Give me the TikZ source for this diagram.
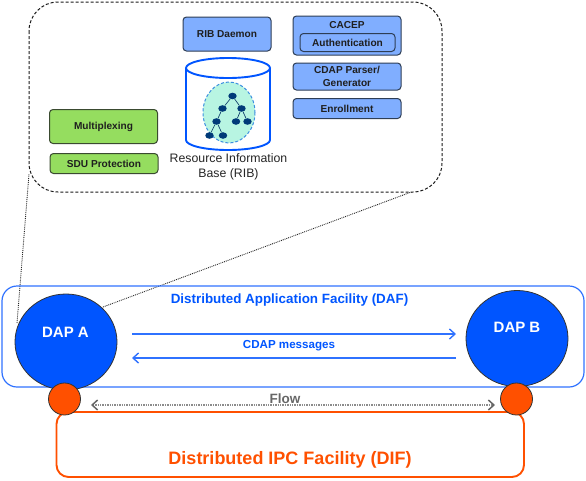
\documentclass[tikz,border=0pt]{standalone}
\usepackage{fontspec}
\setmainfont{Liberation Sans}
\usetikzlibrary{arrows.meta,shapes.geometric}
\definecolor{dapblue}{HTML}{0055FF}
\definecolor{lineblue}{HTML}{2F72FF}
\definecolor{boxblue}{HTML}{80AEFF}
\definecolor{boxedge}{HTML}{2E3E55}
\definecolor{boxgreen}{HTML}{95DD5F}
\definecolor{greenedge}{HTML}{3A4A30}
\definecolor{dif}{HTML}{FF5000}
\definecolor{navy}{HTML}{003A78}
\definecolor{teal}{HTML}{B8F5E2}
\definecolor{tealedge}{HTML}{3C8FE0}
\definecolor{flowgrey}{HTML}{666666}
\tikzset{
  x=1pt,y=-1pt,
  boxfont/.style={font=\fontsize{10.1}{12.4}\selectfont\bfseries,text=black!88},
  rbox/.style={draw=boxedge,line width=1pt,fill=boxblue,rounded corners=3.5pt,inner sep=0pt,align=center,boxfont},
  gbox/.style={rbox,draw=greenedge,fill=boxgreen},
  treenode/.style={ellipse,fill=navy,minimum width=8.4pt,minimum height=6.6pt,inner sep=0pt},
  treeedge/.style={draw=navy!80!black,line width=0.6pt},
  dapnode/.style={ellipse,draw=black!80,line width=0.8pt,fill=dapblue,minimum width=102pt,inner sep=0pt},
  portnode/.style={circle,draw=black!80,line width=0.8pt,fill=dif,minimum size=32pt,inner sep=0pt},
  daflabel/.style={text=dapblue,font=\fontsize{13.4}{16}\selectfont\bfseries,inner sep=0pt},
  daplabel/.style={text=white,font=\fontsize{15}{18}\selectfont\bfseries,inner sep=0pt},
  msg/.style={draw=lineblue,line width=1.2pt,-{Straight Barb[length=5.5pt,width=10pt,line width=1.4pt]}},
  zoomline/.style={draw=black!85,densely dotted,line width=0.9pt},
  flowline/.style={draw=flowgrey!75,densely dotted,line width=1.4pt,{Straight Barb[length=5.5pt,width=10pt,line width=1.5pt,color=flowgrey]}-{Straight Barb[length=5.5pt,width=10pt,line width=1.5pt,color=flowgrey]}}
}
\begin{document}
\begin{tikzpicture}
\useasboundingbox (0,0) rectangle (586,480);
% zoom lines
\coordinate (zaA) at (17,323);
\coordinate (zaB) at (29,174);
\coordinate (zbA) at (103,307);
\coordinate (zbB) at (414,191);
\draw[zoomline] (zaA) -- (zaB);
\draw[zoomline] (zbA) -- (zbB);
% dashed detail box
\draw[black!90,densely dashed,line width=1pt,fill=white,rounded corners=29pt] (29,2) rectangle (442,192);
% DAF frame
\draw[lineblue,line width=1.2pt,rounded corners=15pt] (2,286) rectangle (584,387);
% DIF frame
\draw[dif,line width=1.9pt,rounded corners=12pt] (56.5,412) rectangle (524,477);
% detail boxes
\node[rbox,minimum width=88pt,minimum height=34pt] (ribd) at (227,34) {\raisebox{-1pt}{RIB Daemon}};
\node[rbox,minimum width=108pt,minimum height=39pt] (cacep) at (347,35.5) {};
\node[inner sep=0pt,boxfont] (cacept) at (347,25) {CACEP};
\node[rbox,minimum width=95pt,minimum height=18pt] (auth) at (347.5,42.5) {Authentication};
\node[rbox,minimum width=108pt,minimum height=27pt] (cdap) at (347,76.5) {CDAP Parser/\\Generator};
\node[rbox,minimum width=108pt,minimum height=20pt] (enrol) at (347,108.5) {\raisebox{-1pt}{Enrollment}};
\node[gbox,minimum width=108pt,minimum height=34pt] (mux) at (103.5,126.5) {\raisebox{-1pt}{Multiplexing}};
\node[gbox,minimum width=108pt,minimum height=20pt] (sdu) at (104,163.5) {SDU Protection};
% RIB cylinder
\draw[dapblue,line width=1.9pt,fill=white] (186,68) -- (186,140) arc[start angle=180,end angle=360,x radius=42,y radius=-10] -- (270,68);
\draw[dapblue,line width=1.9pt,fill=white] (228,68) ellipse[x radius=42,y radius=10];
\draw[tealedge,densely dashed,line width=1pt,fill=teal] (229,112.5) ellipse[x radius=26,y radius=30.5];
% tree
\node[treenode] (t1) at (232.5,96) {};
\node[treenode] (t2) at (222.5,108.5) {};
\node[treenode] (t3) at (241.5,108.5) {};
\node[treenode] (t4) at (216.5,121.5) {};
\node[treenode] (t5) at (236,121.5) {};
\node[treenode] (t6) at (247.5,121.5) {};
\node[treenode] (t7) at (209.5,135.5) {};
\node[treenode] (t8) at (223,135.5) {};
\draw[treeedge] (t1)--(t2) (t1)--(t3) (t2)--(t4) (t3)--(t5) (t3)--(t6) (t4)--(t7) (t4)--(t8);
\node[inner sep=0pt,align=center,font=\fontsize{12.3}{14.8}\selectfont,text=black!85] (riblabel) at (228.5,167) {Resource Information\\Base (RIB)};
% DAPs
\node[dapnode,minimum height=96pt] (dapa) at (66,342) {};
\node[dapnode,minimum height=96pt] (dapb) at (517,338.5) {};
\node[daplabel] (dapat) at (65.5,332) {DAP A};
\node[daplabel] (dapbt) at (517,327.5) {DAP B};
\node[portnode] (porta) at (64.5,399) {};
\node[portnode] (portb) at (516.5,399) {};
% labels
\node[daflabel] (daf) at (289.5,300.5) {Distributed Application Facility (DAF)};
\node[inner sep=0pt,text=dapblue,font=\fontsize{11.6}{14}\selectfont\bfseries] (cdapmsg) at (289,346) {CDAP messages};
\node[inner sep=0pt,text=flowgrey,font=\fontsize{13.5}{16}\selectfont\bfseries] (flow) at (285,398.5) {Flow};
\node[inner sep=0pt,text=dif,font=\fontsize{18}{21}\selectfont\bfseries] (dift) at (290,459.5) {Distributed IPC Facility (DIF)};
% arrows
\coordinate (m1a) at (132,334);
\coordinate (m1b) at (456,334);
\coordinate (m2a) at (456,358);
\coordinate (m2b) at (132,358);
\coordinate (fa) at (91,405);
\coordinate (fb) at (495,405);
\draw[msg] (m1a) -- (m1b);
\draw[msg] (m2a) -- (m2b);
\draw[flowline] (fa) -- (fb);
\end{tikzpicture}
\end{document}
